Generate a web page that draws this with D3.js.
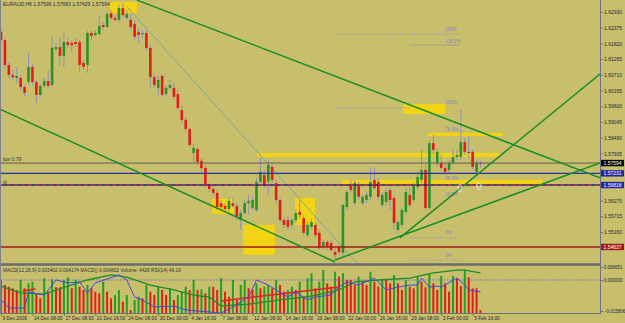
<!DOCTYPE html>
<html><head><meta charset="utf-8">
<script src="https://cdn.jsdelivr.net/npm/d3@7"></script>
<style>body{margin:0;background:#c8bf6c}svg{display:block}text{font-family:"Liberation Sans",Arial,sans-serif}</style>
</head><body><svg id="c" width="625" height="323"></svg>
<script>
const titleText = "EURAUD,H8  1.57598  1.57683  1.57429  1.57594";
const macdText = "MACD(12,26,9) 0.003402 0.004174 MACD() 0.004802 Volume: 4426 RSI(14) 46.19";
const xLabels = ["9 Dec 2009","14 Dec 08:00","17 Dec 08:00","21 Dec 16:00","24 Dec 08:00","30 Dec 00:00","4 Jan 16:00","7 Jan 08:00","12 Jan 08:00","14 Jan 16:00","19 Jan 08:00","22 Jan 00:00","26 Jan 16:00","29 Jan 08:00","3 Feb 00:00","5 Feb 16:00"];
const priceTicks = [1.62930,1.62375,1.61820,1.61265,1.60710,1.60155,1.59600,1.59045,1.58490,1.57935,1.57380,1.56825,1.56270,1.55715,1.55160,1.54605];
const macdTicks = [0.006651, 0.000000, -0.015806];

const opens = [1.6222,1.6194,1.6106,1.6071,1.6060,1.6060,1.6028,1.6046,1.6099,1.6046,1.6000,1.6032,1.6049,1.6035,1.6162,1.6169,1.6138,1.6187,1.6184,1.6187,1.6187,1.6113,1.6106,1.6219,1.6212,1.6215,1.6247,1.6240,1.6289,1.6272,1.6265,1.6307,1.6272,1.6265,1.6251,1.6222,1.6215,1.6219,1.6166,1.6063,1.6025,1.6067,1.6003,1.6025,1.6025,1.6003,1.5947,1.5912,1.5880,1.5795,1.5809,1.5767,1.5742,1.5682,1.5668,1.5654,1.5618,1.5608,1.5597,1.5618,1.5608,1.5558,1.5583,1.5618,1.5601,1.5594,1.5693,1.5717,1.5693,1.5746,1.5689,1.5629,1.5558,1.5558,1.5541,1.5558,1.5587,1.5565,1.5505,1.5534,1.5541,1.5513,1.5463,1.5481,1.5477,1.5445,1.5463,1.5442,1.5604,1.5682,1.5618,1.5682,1.5618,1.5629,1.5640,1.5700,1.5693,1.5611,1.5622,1.5664,1.5636,1.5523,1.5541,1.5587,1.5647,1.5629,1.5675,1.5700,1.5735,1.5601,1.5830,1.5760,1.5760,1.5742,1.5735,1.5760,1.5781,1.5781,1.5834,1.5799,1.5799,1.5728,1.57598];
const highs = [1.6237,1.6201,1.6116,1.6088,1.6099,1.6071,1.6035,1.6148,1.6109,1.6053,1.6039,1.6060,1.6088,1.6205,1.6184,1.6201,1.6219,1.6201,1.6194,1.6201,1.6194,1.6123,1.6226,1.6226,1.6229,1.6282,1.6258,1.6293,1.6300,1.6282,1.6318,1.6325,1.6300,1.6286,1.6265,1.6237,1.6229,1.6229,1.6176,1.6074,1.6067,1.6074,1.6035,1.6053,1.6042,1.6018,1.5965,1.5922,1.5887,1.5830,1.5816,1.5777,1.5753,1.5689,1.5678,1.5664,1.5629,1.5618,1.5636,1.5636,1.5618,1.5594,1.5629,1.5647,1.5643,1.5707,1.5777,1.5735,1.5770,1.5760,1.5700,1.5636,1.5569,1.5572,1.5565,1.5594,1.5629,1.5576,1.5551,1.5562,1.5548,1.5523,1.5488,1.5488,1.5488,1.5459,1.5470,1.5618,1.5664,1.5700,1.5700,1.5693,1.5647,1.5657,1.5746,1.5742,1.5707,1.5657,1.5671,1.5675,1.5647,1.5558,1.5601,1.5671,1.5675,1.5689,1.5728,1.5806,1.5753,1.5841,1.5859,1.5813,1.5788,1.5760,1.5770,1.5806,1.5806,1.5947,1.5848,1.5852,1.5806,1.5770,1.57683];
const lows = [1.6187,1.6095,1.6060,1.6053,1.6042,1.6018,1.5996,1.6039,1.6035,1.5972,1.5993,1.6025,1.6021,1.6028,1.6152,1.6106,1.6099,1.6166,1.6148,1.6169,1.6081,1.6088,1.6078,1.6194,1.6205,1.6212,1.6229,1.6237,1.6265,1.6258,1.6258,1.6272,1.6265,1.6229,1.6194,1.6184,1.6201,1.6159,1.6028,1.6025,1.6000,1.5993,1.5996,1.6018,1.5986,1.5947,1.5901,1.5869,1.5816,1.5763,1.5753,1.5728,1.5671,1.5657,1.5643,1.5594,1.5594,1.5587,1.5587,1.5601,1.5558,1.5523,1.5576,1.5576,1.5594,1.5587,1.5686,1.5671,1.5647,1.5689,1.5618,1.5551,1.5530,1.5523,1.5530,1.5548,1.5565,1.5502,1.5498,1.5527,1.5498,1.5452,1.5452,1.5452,1.5445,1.5417,1.5435,1.5431,1.5594,1.5654,1.5608,1.5629,1.5611,1.5618,1.5629,1.5664,1.5629,1.5604,1.5611,1.5594,1.5523,1.5513,1.5530,1.5576,1.5604,1.5618,1.5664,1.5689,1.5594,1.5594,1.5788,1.5749,1.5735,1.5717,1.5724,1.5753,1.5770,1.5770,1.5788,1.5777,1.5735,1.5717,1.57429];
const closes = [1.6194,1.6106,1.6071,1.6063,1.6067,1.6028,1.6007,1.6099,1.6046,1.6000,1.6032,1.6049,1.6032,1.6166,1.6169,1.6138,1.6187,1.6176,1.6176,1.6180,1.6106,1.6099,1.6219,1.6208,1.6219,1.6244,1.6240,1.6286,1.6272,1.6265,1.6307,1.6282,1.6286,1.6240,1.6205,1.6212,1.6219,1.6166,1.6063,1.6035,1.6053,1.6000,1.6025,1.6035,1.5993,1.5954,1.5912,1.5880,1.5823,1.5813,1.5763,1.5742,1.5682,1.5668,1.5654,1.5604,1.5604,1.5597,1.5626,1.5608,1.5572,1.5583,1.5618,1.5626,1.5629,1.5693,1.5728,1.5682,1.5753,1.5700,1.5629,1.5558,1.5541,1.5534,1.5558,1.5583,1.5576,1.5513,1.5541,1.5551,1.5505,1.5459,1.5481,1.5463,1.5452,1.5435,1.5445,1.5611,1.5657,1.5664,1.5689,1.5640,1.5640,1.5647,1.5693,1.5671,1.5640,1.5647,1.5657,1.5629,1.5548,1.5551,1.5594,1.5657,1.5611,1.5682,1.5710,1.5735,1.5601,1.5830,1.5806,1.5799,1.5742,1.5728,1.5760,1.5781,1.5788,1.5834,1.5799,1.5795,1.5746,1.5760,1.57594];
const volumes = [3300,2800,2630,2470,2300,3300,2470,2970,3130,1970,1470,3470,2130,3370,2570,2570,3300,3570,2470,3300,2630,2300,2800,2470,2130,1970,3130,2130,1470,1800,2300,1130,1800,300,1300,1630,1470,2800,2130,1800,2630,2300,1800,2470,1300,1800,2130,2630,2300,3300,2300,2370,1970,2630,2630,2300,3470,2130,1630,3300,1300,2800,3300,2470,2300,2970,2470,2630,2800,2470,3300,2800,2130,2300,2630,2300,3130,1630,3470,3970,2470,3130,4300,2970,2630,4130,3630,3970,3300,3300,2800,3630,3130,2800,4130,3130,2630,3300,3300,2970,3800,2970,2300,3300,2630,2470,3700,3130,2570,3900,2970,2300,3700,2970,2130,3700,3470,2700,4300,3570,2470,2470,300];

// indicator lines in subwindow: [barIndex, value]
const macdLine = [[0,-0.0031],[5,-0.0066],[11,-0.0072],[17,-0.0031],[22,0.0000],[28,0.0026],[32,0.0015],[38,-0.0026],[44,-0.0051],[49,-0.0077],[53,-0.0087],[56,-0.0133],[63,-0.0123],[71,-0.0102],[79,-0.0082],[86,-0.0051],[90,-0.0010],[96,0.0000],[104,0.0010],[110,0.0036],[116,0.0051],[118,0.0051],[122,0.0036]];
const rsiLine = [[0,-0.0102],[2,-0.0143],[6,-0.0143],[7,-0.0061],[11,-0.0077],[14,0.0000],[17,-0.0015],[20,-0.0010],[22,-0.0066],[24,-0.0015],[30,0.0026],[32,0.0000],[34,-0.0087],[36,-0.0102],[39,-0.0138],[44,-0.0133],[47,-0.0153],[53,-0.0164],[56,-0.0169],[59,-0.0138],[63,-0.0087],[65,0.0000],[68,-0.0026],[70,-0.0051],[73,-0.0087],[75,-0.0061],[78,-0.0102],[80,-0.0087],[84,-0.0077],[86,-0.0036],[88,-0.0010],[91,-0.0026],[95,0.0010],[98,-0.0051],[101,-0.0036],[104,-0.0026],[106,-0.0026],[107,0.0010],[109,-0.0036],[111,-0.0031],[112,-0.0036],[116,0.0010],[118,-0.0026],[119,-0.0051],[122,-0.0061]];
const macdRedLines = [[[56,-0.0107],[86,-0.0036]], [[5.5,-0.0056],[8.8,-0.0046]]];

// drawn objects in price pane: [barIndex, price]
const trendLines = [
  [[34.6,1.6335],[152.4,1.5707]],
  [[-0.3,1.5950],[85,1.5410]],
  [[85,1.5417],[152.4,1.5760]],
  [[101.5,1.5495],[152.4,1.6074]]
];
const thinLine = [[32.1,1.6311],[90.6,1.5406]];
const yellowRects = [
  [27.7,34.6,1.6328,1.6289],
  [53.7,59.3,1.5633,1.5580],
  [61.6,69.7,1.5541,1.5435],
  [74.8,79.9,1.5636,1.5541],
  [102.3,113.0,1.5968,1.5933],
  [108.7,127.7,1.5866,1.5855],
  [65.1,127.0,1.5795,1.5781],
  [86.8,137.9,1.5700,1.5682]
];
const fibLabels = [["150%",1.6226],["138.2%",1.6184],["100%",1.5968],["78.6%",1.5872],["38.2%",1.5699],["23.6%",1.5643],["0%",1.5508],["0%",1.5427]];
const fibDotted = [[85.5,116.8,1.6215],[84.5,104,1.5954],[104,116.8,1.5495],[104,116.8,1.5417]];
const fibSolid = [[104,116.8,1.6176]];
const arrows = [[116.8,1.5671],[121.6,1.5678]];
const bidPrice = 1.57594, bluePrice = 1.57231, slPrice = 1.56818, redPrice = 1.54630;
const bidLabel = "1.57594", blueLabel = "1.57231", slLabel = "1.56818", redLabel = "1.54637";

const svg = d3.select("#c");
const W = 625, PR = 600;
const x = d3.scaleLinear().domain([0,122]).range([1,480.5]);
const y = d3.scaleLinear().domain([1.54064,1.63354]).range([263,0]);
const yM = d3.scaleLinear().domain([-0.01688,0.00767]).range([313,265]);
const yV = d3.scaleLinear().domain([0,4800]).range([313,265]);
const FONT = "Liberation Sans, Arial, sans-serif";

svg.append("rect").attr("width",W).attr("height",323).attr("fill","#c8bf6c");
const defs = svg.append("defs");
defs.append("clipPath").attr("id","cp").append("rect").attr("x",0).attr("y",0).attr("width",PR).attr("height",263);
defs.append("clipPath").attr("id","cs").append("rect").attr("x",0).attr("y",265).attr("width",PR).attr("height",48);

const main = svg.append("g").attr("clip-path","url(#cp)");
const sub = svg.append("g").attr("clip-path","url(#cs)");

main.selectAll(".yr").data(yellowRects).join("rect")
  .attr("x",d=>x(d[0])).attr("width",d=>x(d[1])-x(d[0]))
  .attr("y",d=>y(d[2])).attr("height",d=>y(d[3])-y(d[2]))
  .attr("fill","#f2d414");

main.selectAll(".fd").data(fibDotted).join("line")
  .attr("x1",d=>x(d[0])).attr("x2",d=>x(d[1])).attr("y1",d=>y(d[2])).attr("y2",d=>y(d[2]))
  .attr("stroke","#8a8ae0").attr("stroke-width",0.8).attr("stroke-dasharray","1,1.5");
main.selectAll(".fs").data(fibSolid).join("line")
  .attr("x1",d=>x(d[0])).attr("x2",d=>x(d[1])).attr("y1",d=>y(d[2])).attr("y2",d=>y(d[2]))
  .attr("stroke","#9a9a90").attr("stroke-width",0.8);
main.selectAll(".fl").data(fibLabels).join("text")
  .attr("x",x(113)).attr("y",d=>y(d[1])).attr("font-size",4.5).attr("fill","#8484c8").text(d=>d[0]);

main.append("line").attr("x1",x(thinLine[0][0])).attr("y1",y(thinLine[0][1]))
  .attr("x2",x(thinLine[1][0])).attr("y2",y(thinLine[1][1]))
  .attr("stroke","#7fa898").attr("stroke-width",1);

const idx = d3.range(opens.length);
main.selectAll(".wk").data(idx).join("line")
  .attr("x1",i=>x(i)).attr("x2",i=>x(i)).attr("y1",i=>y(highs[i])).attr("y2",i=>y(lows[i]))
  .attr("stroke","#9090b4").attr("stroke-width",1);
main.selectAll(".bd").data(idx).join("rect")
  .attr("x",i=>x(i)-1.3).attr("width",2.6)
  .attr("y",i=>y(Math.max(opens[i],closes[i])))
  .attr("height",i=>Math.max(1,Math.abs(y(opens[i])-y(closes[i]))))
  .attr("fill",i=>closes[i]>=opens[i]?"#2a922a":"#e41c1c");

function hline(p,col,w,dash){
  const l = main.append("line").attr("x1",0).attr("x2",PR).attr("y1",y(p)).attr("y2",y(p))
    .attr("stroke",col).attr("stroke-width",w);
  if(dash) l.attr("stroke-dasharray",dash);
}
hline(bidPrice,"#5c5c5c",1);
hline(bluePrice,"#2434a8",1.4);
hline(slPrice,"#1c1c7c",1.4);
hline(slPrice,"#e8304a",1,"4,3");
hline(redPrice,"#a41818",1.3);
main.append("text").attr("x",3).attr("y",y(bidPrice)-2).attr("font-size",5).attr("fill","#303040").text("bor 0.79");
main.append("text").attr("x",3).attr("y",y(slPrice)-1.5).attr("font-size",5).attr("fill","#303040").text("sl");

main.selectAll(".tl").data(trendLines).join("line")
  .attr("x1",d=>x(d[0][0])).attr("y1",d=>y(d[0][1])).attr("x2",d=>x(d[1][0])).attr("y2",d=>y(d[1][1]))
  .attr("stroke","#1c8c2a").attr("stroke-width",1.5);

main.selectAll(".ar").data(arrows).join("path")
  .attr("transform",d=>`translate(${x(d[0])},${y(d[1])})`)
  .attr("d","M0,-4 L3,-0.5 L1.2,-0.5 L1.2,3.5 L-1.2,3.5 L-1.2,-0.5 L-3,-0.5 Z")
  .attr("fill","none").attr("stroke","#e8e8e0").attr("stroke-width",0.8);

svg.append("text").attr("x",3).attr("y",6).attr("font-size",5).attr("fill","#303040").text(titleText);

sub.selectAll(".vb").data(idx).join("rect")
  .attr("x",i=>x(i)-1).attr("width",2)
  .attr("y",i=>yV(volumes[i])).attr("height",i=>313-yV(volumes[i]))
  .attr("fill",i=>(i===0||volumes[i]>volumes[i-1])?"#22a022":"#e41c1c");
sub.append("line").attr("x1",0).attr("x2",PR).attr("y1",yM(0)).attr("y2",yM(0))
  .attr("stroke","#5a5ad0").attr("stroke-width",0.8).attr("stroke-dasharray","1.5,1.5");
const ln = d3.line().x(d=>x(d[0])).y(d=>yM(d[1]));
sub.append("path").attr("d",ln(macdLine)).attr("fill","none").attr("stroke","#1c8c2a").attr("stroke-width",1.3);
sub.selectAll(".rl").data(macdRedLines).join("path").attr("d",d=>ln(d)).attr("fill","none").attr("stroke","#e42020").attr("stroke-width",1.5);
sub.append("path").attr("d",ln(rsiLine)).attr("fill","none").attr("stroke","#4646e0").attr("stroke-width",1);
svg.append("text").attr("x",3).attr("y",272).attr("font-size",4.8).attr("fill","#303040").text(macdText);

svg.append("line").attr("x1",0).attr("x2",PR).attr("y1",264.5).attr("y2",264.5).attr("stroke","#6a6a70").attr("stroke-width",2.5);
svg.append("line").attr("x1",0).attr("x2",PR).attr("y1",313.5).attr("y2",313.5).attr("stroke","#707080").attr("stroke-width",1);
svg.append("line").attr("x1",0.5).attr("x2",0.5).attr("y1",0).attr("y2",314).attr("stroke","#808090").attr("stroke-width",1);
svg.append("line").attr("x1",PR+0.5).attr("x2",PR+0.5).attr("y1",0).attr("y2",314).attr("stroke","#707088").attr("stroke-width",1);

// price axis (labels hidden where a price box covers them)
const boxPrices = [bidPrice, bluePrice, slPrice, redPrice];
const pa = svg.append("g").attr("transform",`translate(${PR+0.5},0)`)
  .call(d3.axisRight(y).tickValues(priceTicks).tickFormat(d3.format(".5f")).tickSize(2.5).tickPadding(1));
pa.select(".domain").remove();
pa.selectAll("line").attr("stroke","#707088");
pa.selectAll("text").attr("font-size",5).attr("fill","#25253c").attr("font-family",FONT)
  .attr("display",d=>boxPrices.some(b=>Math.abs(y(b)-y(d))<7)?"none":null);

const ma = svg.append("g").attr("transform",`translate(${PR+0.5},0)`)
  .call(d3.axisRight(yM).tickValues(macdTicks).tickFormat(d3.format(".6f")).tickSize(2.5).tickPadding(0.8));
ma.select(".domain").remove();
ma.selectAll("line").attr("stroke","#707088");
ma.selectAll("text").attr("font-size",4.5).attr("fill","#25253c").attr("font-family",FONT);

function plabel(p,txt,bg){
  const g = svg.append("g").attr("transform",`translate(${PR+1},${y(p)})`);
  g.append("rect").attr("x",0).attr("y",-3.2).attr("width",23).attr("height",6.4).attr("fill",bg);
  g.append("text").attr("x",2.5).attr("y",1.8).attr("font-size",5).attr("fill","#ffffff").text(txt);
}
plabel(bidPrice,bidLabel,"#000000");
plabel(bluePrice,blueLabel,"#2428a0");
plabel(slPrice,slLabel,"#2428a0");
plabel(redPrice,redLabel,"#a41818");

const ta = svg.append("g").attr("transform","translate(0,313.5)")
  .call(d3.axisBottom(x).tickValues(d3.range(0,121,8)).tickFormat((d,i)=>xLabels[i]).tickSize(2.5).tickPadding(1));
ta.select(".domain").remove();
ta.selectAll("line").attr("stroke","#707088");
ta.selectAll("text").attr("font-size",4.8).attr("fill","#25253c").attr("text-anchor","start").attr("dx",1)
  .attr("font-family",FONT);
</script></body></html>
